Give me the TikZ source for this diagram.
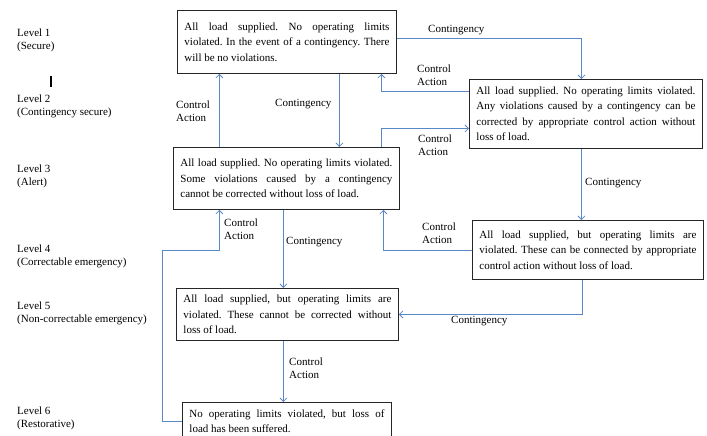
\documentclass[tikz,border=0pt]{standalone}
\usepackage{fontspec}
\setmainfont{Liberation Serif}
\usetikzlibrary{arrows.meta}
\definecolor{flow-blue}{HTML}{5A87C5}
\definecolor{box-line}{HTML}{262626}
\frenchspacing

\tikzset{
  statebox/.style={draw=box-line, line width=0.9pt, anchor=north west, align=justify,
    inner xsep=7pt, inner ysep=3pt, font=\fontsize{11}{15.5}\selectfont},
  flow/.style={->, flow-blue, line width=0.8pt},
  tag/.style={anchor=west, align=left, inner sep=0pt, font=\fontsize{11}{13}\selectfont},
  level/.style={anchor=west, align=left, inner sep=0pt, font=\fontsize{11}{13}\selectfont}
}

\begin{document}
\begin{tikzpicture}[x=1pt, y=-1pt, >={Straight Barb[length=3.5pt, width=7pt]}]
    \useasboundingbox (0,0) rectangle (707,436);
    \clip (0,0) rectangle (707,436);
    % operating states
    \node[statebox, text width=205pt, minimum height=63pt] (s1) at (177,10)
      {All load supplied. No operating limits\linebreak violated. In the event of a contingency. There\linebreak will be no violations.};
    \node[statebox, text width=219pt, minimum height=69pt] (s2) at (469,79)
      {All load supplied. No operating limits violated.\linebreak Any violations caused by a contingency can be\linebreak corrected by appropriate control action without\linebreak loss of load.};
    \node[statebox, text width=212pt, minimum height=62pt] (s3) at (173,147)
      {All load supplied. No operating limits violated.\linebreak Some violations caused by a contingency\linebreak cannot be corrected without loss of load.};
    \node[statebox, text width=217pt, minimum height=59pt] (s4) at (472,220)
      {All load supplied, but operating limits are\linebreak violated. These can be connected by appropriate\linebreak control action without loss of load.};
    \node[statebox, text width=208pt, minimum height=52pt] (s5) at (176,288)
      {All load supplied, but operating limits are\linebreak violated. These cannot be corrected without\linebreak loss of load.};
    \node[statebox, text width=195pt, minimum height=38pt] (s6) at (182,402)
      {No operating limits violated, but loss of\linebreak load has been suffered.};

    % levels
    \node[level] (lv1) at (17,40) {Level 1\\(Secure)};
    \node[level] (lv2) at (17,106) {Level 2\\(Contingency secure)};
    \node[level] (lv3) at (17,176) {Level 3\\(Alert)};
    \node[level] (lv4) at (17,256) {Level 4\\(Correctable emergency)};
    \node[level] (lv5) at (17,313) {Level 5\\(Non-correctable emergency)};
    \node[level] (lv6) at (17,418) {Level 6\\(Restorative)};
    \draw[line width=1.3pt] (51,76) -- (51,87);

    % transitions
    \draw[flow] ([yshift=3.5pt]s1.east) -| ([xshift=-4.5pt]s2.north);
    \draw[flow] ([yshift=22.5pt]s2.west) -| ([xshift=94.5pt]s1.south);
    \draw[flow] ([xshift=52.5pt]s1.south) -- ([xshift=52.5pt]s1.south |- s3.north);
    \draw[flow] ([xshift=-67pt]s3.north) -- ([xshift=-67pt]s3.north |- s1.south);
    \draw[flow] ([xshift=95pt]s3.north) |- ([yshift=-14.5pt]s2.west);
    \draw[flow] ([xshift=-4.5pt]s2.south) -- ([xshift=-4.5pt]s2.south |- s4.north);
    \draw[flow] (s4.west) -| ([xshift=97pt]s3.south);
    \draw[flow] ([xshift=-3pt]s3.south) -- ([xshift=-3pt]s3.south |- s5.north);
    \draw[flow] ([xshift=-5.5pt]s4.south) |- (s5.east);
    \draw[flow] ([xshift=-4pt]s5.south) -- ([xshift=-4pt]s5.south |- s6.north);
    \draw[flow] (s6.west) -- ++(-20,0) |- ([xshift=-67pt]s3.south |- s4.west) -- ([xshift=-67pt]s3.south);

    % transition labels
    \node[tag] (c12) at (428,30) {Contingency};
    \node[tag] (a21) at (417,75.5) {Control\\Action};
    \node[tag] (c13) at (275,104) {Contingency};
    \node[tag] (a31) at (176,111.5) {Control\\Action};
    \node[tag] (a32) at (418,145) {Control\\Action};
    \node[tag] (c24) at (585,183) {Contingency};
    \node[tag] (a43) at (422,233.5) {Control\\Action};
    \node[tag] (c35) at (286,242) {Contingency};
    \node[tag] (c45) at (451,321) {Contingency};
    \node[tag] (a56) at (289,368) {Control\\Action};
    \node[tag] (a63) at (224,229) {Control\\Action};
\end{tikzpicture}
\end{document}
